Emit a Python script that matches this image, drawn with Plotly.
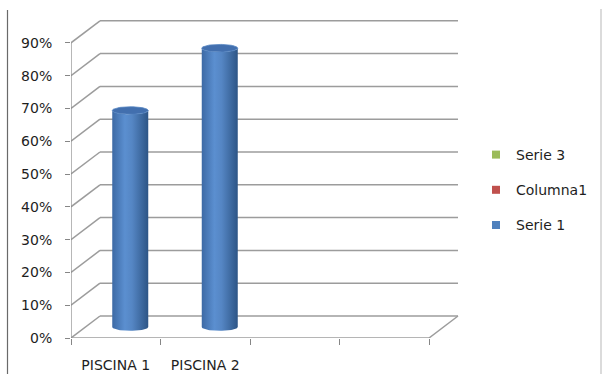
import numpy as np
import plotly.graph_objects as go

# ---- data ----
categories = ["PISCINA 1", "PISCINA 2"]
serie1_values = [0.66, 0.85]
legend_names = ["Serie 3", "Columna1", "Serie 1"]
legend_colors = ["#9BBB59", "#C0504D", "#4F81BD"]
y_ticks = [0, 0.1, 0.2, 0.3, 0.4, 0.5, 0.6, 0.7, 0.8, 0.9]
n_slots = 4  # category slots on the floor

# ---- geometry (layout / styling) ----
W, H = 602, 374
ML, MR, MT, MB = 71, 137, 10, 36
PW, PH = W - ML - MR, H - MT - MB
px_per_x = 89.5
x_max = PW / px_per_x
y_max = 1.0
DX = 29 / px_per_x          # depth offset in x units
DY = 22 / (PH / y_max)      # depth offset in y units
R = 18 / px_per_x           # cylinder radius (x units)
RY = 3.8 / (PH / y_max)     # ellipse vertical radius (y units)
GRID = "#9c9c9c"
AXC = "#868686"
FONT = "DejaVu Sans"


def px_to_paper_x(p):
    return (p - ML) / PW


def px_to_paper_y(p):
    return (H - MB - p) / PH


fig = go.Figure()

shapes = []
# back wall gridlines + side diagonals
for v in y_ticks:
    shapes.append(dict(type="line", xref="x", yref="y", x0=0, y0=v, x1=DX, y1=v + DY,
                       line=dict(color=GRID, width=1.5), layer="below"))
    shapes.append(dict(type="line", xref="x", yref="y", x0=DX, y0=v + DY, x1=n_slots + DX, y1=v + DY,
                       line=dict(color=GRID, width=1.5), layer="below"))
# floor front edge and right edge
shapes.append(dict(type="line", xref="x", yref="y", x0=0, y0=0, x1=n_slots, y1=0,
                   line=dict(color=GRID, width=1.5), layer="below"))
shapes.append(dict(type="line", xref="x", yref="y", x0=n_slots, y0=0, x1=n_slots + DX, y1=DY,
                   line=dict(color=GRID, width=1.5), layer="below"))
# front vertical axis
shapes.append(dict(type="line", xref="x", yref="y", x0=0, y0=0, x1=0, y1=y_ticks[-1],
                   line=dict(color=AXC, width=1.2), layer="below"))
# page borders
shapes.append(dict(type="line", xref="paper", yref="paper",
                   x0=px_to_paper_x(7.5), x1=px_to_paper_x(7.5),
                   y0=px_to_paper_y(10), y1=px_to_paper_y(374),
                   line=dict(color="#6a6a6a", width=1.2)))
shapes.append(dict(type="line", xref="paper", yref="paper",
                   x0=px_to_paper_x(601), x1=px_to_paper_x(601),
                   y0=px_to_paper_y(9), y1=px_to_paper_y(374),
                   line=dict(color="#cfcfcf", width=1.5)))

# ---- cylinders ----
grad = [[0.0, "#3d6aa5"], [0.35, "#5b8fd0"], [0.55, "#5586c4"], [1.0, "#2d5586"]]
th_top = np.linspace(np.pi, 2 * np.pi, 40)
th_bot = np.linspace(2 * np.pi, np.pi, 40)
th_full = np.linspace(0, 2 * np.pi, 80)
for i, v in enumerate(serie1_values):
    xc = i + 0.5 + DX / 2
    b = DY / 2
    t = b + v
    xs = [xc - R, xc - R] + list(xc + R * np.cos(th_top)) + [xc + R] + list(xc + R * np.cos(th_bot))
    ys = [b, t] + list(t + RY * np.sin(th_top)) + [b] + list(b + RY * np.sin(th_bot))
    fig.add_trace(go.Scatter(x=xs, y=ys, mode="lines", fill="toself",
                             fillgradient=dict(type="horizontal", colorscale=grad),
                             line=dict(width=0), showlegend=False, hoverinfo="skip"))
    fig.add_trace(go.Scatter(x=list(xc + R * np.cos(th_full)), y=list(t + RY * np.sin(th_full)),
                             mode="lines", fill="toself", fillcolor="#426fae",
                             line=dict(width=0.8, color="#5585c2"), showlegend=False,
                             hovertext=f"{categories[i]}: {v:.0%}", hoverinfo="text"))

# ---- legend entries ----
for i, (name, col) in enumerate(zip(legend_names, legend_colors)):
    fig.add_trace(go.Scatter(x=[None], y=[None], mode="markers", name=name,
                             legendgroup=name,
                             marker=dict(symbol="square", size=8, color=col)))

fig.update_layout(
    width=W, height=H,
    margin=dict(l=ML, r=MR, t=MT, b=MB, autoexpand=False),
    paper_bgcolor="white", plot_bgcolor="white",
    font=dict(family=FONT, size=14, color="#1e1e1e"),
    shapes=shapes,
    showlegend=True,
    legend=dict(x=px_to_paper_x(476), y=px_to_paper_y(139), xanchor="left", yanchor="top",
                traceorder="grouped", tracegroupgap=14,
                font=dict(family=FONT, size=14, color="#1e1e1e"),
                bgcolor="rgba(0,0,0,0)"),
    xaxis=dict(range=[0, x_max], showgrid=False, zeroline=False, showline=False,
               automargin=False,
               tickmode="array", tickvals=[i + 0.5 for i in range(len(categories))],
               ticktext=categories, ticks="outside", ticklen=7,
               tickcolor="rgba(0,0,0,0)", ticklabelstandoff=7,
               minor=dict(tickmode="array", tickvals=list(range(n_slots + 1)),
                          ticks="outside", ticklen=6, tickcolor=AXC, tickwidth=1.2,
                          showgrid=False),
               fixedrange=True),
    yaxis=dict(range=[0, y_max], showgrid=False, zeroline=False, showline=False,
               automargin=False,
               tickmode="array", tickvals=y_ticks, tickformat=".0%",
               ticks="outside", ticklen=5, tickcolor=AXC, tickwidth=1.2,
               ticklabelstandoff=10, fixedrange=True),
)

fig.write_html("out.html")
